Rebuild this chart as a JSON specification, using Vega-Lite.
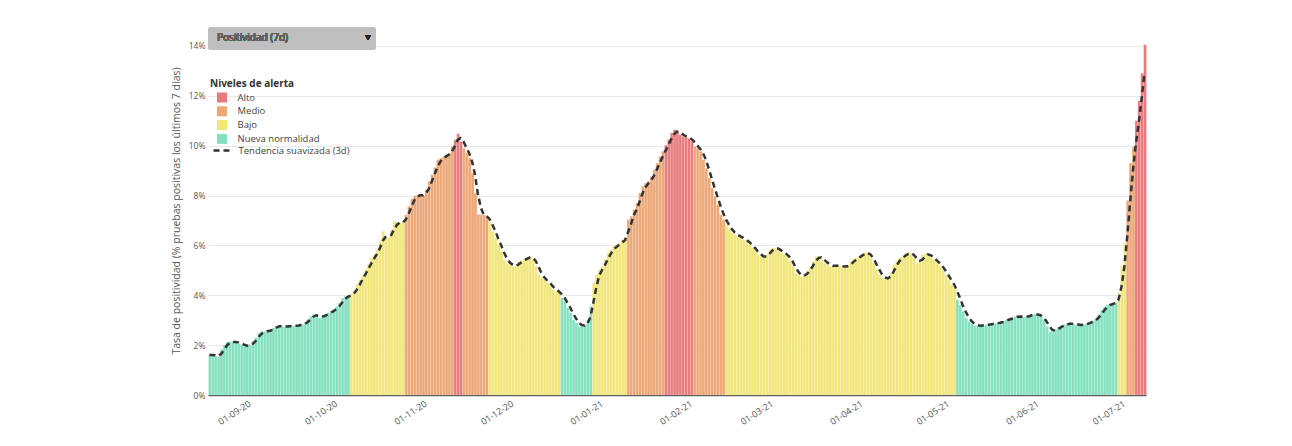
{
"$schema": "https://vega.github.io/schema/vega-lite/v6.json",
"width": 938,
"height": 369,
"autosize": {"type": "none"},
"padding": {"left": 208, "top": 26, "right": 146, "bottom": 51},
"background": "#ffffff",
"config": {
  "view": {"stroke": null},
  "font": "Open Sans",
  "axis": {"labelFont": "Open Sans", "titleFont": "Open Sans"},
  "legend": {"labelFont": "Open Sans", "titleFont": "Open Sans"},
  "text": {"font": "Open Sans"}
},
"data": {"values": [
{"d":"2020-08-17","v":1.6,"t":1.6,"n":"Nueva normalidad"},
{"d":"2020-08-18","v":1.6,"t":1.6,"n":"Nueva normalidad"},
{"d":"2020-08-19","v":1.56,"t":1.59,"n":"Nueva normalidad"},
{"d":"2020-08-20","v":1.53,"t":1.56,"n":"Nueva normalidad"},
{"d":"2020-08-21","v":1.83,"t":1.64,"n":"Nueva normalidad"},
{"d":"2020-08-22","v":2.0,"t":1.79,"n":"Nueva normalidad"},
{"d":"2020-08-23","v":2.12,"t":1.98,"n":"Nueva normalidad"},
{"d":"2020-08-24","v":2.15,"t":2.09,"n":"Nueva normalidad"},
{"d":"2020-08-25","v":2.13,"t":2.13,"n":"Nueva normalidad"},
{"d":"2020-08-26","v":2.12,"t":2.13,"n":"Nueva normalidad"},
{"d":"2020-08-27","v":2.07,"t":2.11,"n":"Nueva normalidad"},
{"d":"2020-08-28","v":2.02,"t":2.07,"n":"Nueva normalidad"},
{"d":"2020-08-29","v":1.96,"t":2.02,"n":"Nueva normalidad"},
{"d":"2020-08-30","v":1.97,"t":1.98,"n":"Nueva normalidad"},
{"d":"2020-08-31","v":2.03,"t":1.99,"n":"Nueva normalidad"},
{"d":"2020-09-01","v":2.16,"t":2.05,"n":"Nueva normalidad"},
{"d":"2020-09-02","v":2.3,"t":2.16,"n":"Nueva normalidad"},
{"d":"2020-09-03","v":2.49,"t":2.32,"n":"Nueva normalidad"},
{"d":"2020-09-04","v":2.56,"t":2.45,"n":"Nueva normalidad"},
{"d":"2020-09-05","v":2.55,"t":2.53,"n":"Nueva normalidad"},
{"d":"2020-09-06","v":2.56,"t":2.56,"n":"Nueva normalidad"},
{"d":"2020-09-07","v":2.62,"t":2.58,"n":"Nueva normalidad"},
{"d":"2020-09-08","v":2.69,"t":2.62,"n":"Nueva normalidad"},
{"d":"2020-09-09","v":2.76,"t":2.69,"n":"Nueva normalidad"},
{"d":"2020-09-10","v":2.79,"t":2.75,"n":"Nueva normalidad"},
{"d":"2020-09-11","v":2.76,"t":2.77,"n":"Nueva normalidad"},
{"d":"2020-09-12","v":2.73,"t":2.76,"n":"Nueva normalidad"},
{"d":"2020-09-13","v":2.76,"t":2.75,"n":"Nueva normalidad"},
{"d":"2020-09-14","v":2.8,"t":2.76,"n":"Nueva normalidad"},
{"d":"2020-09-15","v":2.76,"t":2.77,"n":"Nueva normalidad"},
{"d":"2020-09-16","v":2.79,"t":2.78,"n":"Nueva normalidad"},
{"d":"2020-09-17","v":2.83,"t":2.79,"n":"Nueva normalidad"},
{"d":"2020-09-18","v":2.84,"t":2.82,"n":"Nueva normalidad"},
{"d":"2020-09-19","v":2.89,"t":2.85,"n":"Nueva normalidad"},
{"d":"2020-09-20","v":3.03,"t":2.92,"n":"Nueva normalidad"},
{"d":"2020-09-21","v":3.16,"t":3.03,"n":"Nueva normalidad"},
{"d":"2020-09-22","v":3.23,"t":3.14,"n":"Nueva normalidad"},
{"d":"2020-09-23","v":3.2,"t":3.2,"n":"Nueva normalidad"},
{"d":"2020-09-24","v":3.09,"t":3.17,"n":"Nueva normalidad"},
{"d":"2020-09-25","v":3.16,"t":3.15,"n":"Nueva normalidad"},
{"d":"2020-09-26","v":3.25,"t":3.17,"n":"Nueva normalidad"},
{"d":"2020-09-27","v":3.29,"t":3.23,"n":"Nueva normalidad"},
{"d":"2020-09-28","v":3.36,"t":3.3,"n":"Nueva normalidad"},
{"d":"2020-09-29","v":3.43,"t":3.36,"n":"Nueva normalidad"},
{"d":"2020-09-30","v":3.56,"t":3.45,"n":"Nueva normalidad"},
{"d":"2020-10-01","v":3.69,"t":3.56,"n":"Nueva normalidad"},
{"d":"2020-10-02","v":3.89,"t":3.71,"n":"Nueva normalidad"},
{"d":"2020-10-03","v":3.96,"t":3.85,"n":"Nueva normalidad"},
{"d":"2020-10-04","v":3.96,"t":3.94,"n":"Nueva normalidad"},
{"d":"2020-10-05","v":4.05,"t":3.99,"n":"Bajo"},
{"d":"2020-10-06","v":4.16,"t":4.06,"n":"Bajo"},
{"d":"2020-10-07","v":4.43,"t":4.21,"n":"Bajo"},
{"d":"2020-10-08","v":4.63,"t":4.41,"n":"Bajo"},
{"d":"2020-10-09","v":4.83,"t":4.63,"n":"Bajo"},
{"d":"2020-10-10","v":5.03,"t":4.83,"n":"Bajo"},
{"d":"2020-10-11","v":5.25,"t":5.04,"n":"Bajo"},
{"d":"2020-10-12","v":5.49,"t":5.26,"n":"Bajo"},
{"d":"2020-10-13","v":5.63,"t":5.46,"n":"Bajo"},
{"d":"2020-10-14","v":5.83,"t":5.65,"n":"Bajo"},
{"d":"2020-10-15","v":6.16,"t":5.87,"n":"Bajo"},
{"d":"2020-10-16","v":6.56,"t":6.18,"n":"Bajo"},
{"d":"2020-10-17","v":6.3,"t":6.34,"n":"Bajo"},
{"d":"2020-10-18","v":6.32,"t":6.39,"n":"Bajo"},
{"d":"2020-10-19","v":6.63,"t":6.42,"n":"Bajo"},
{"d":"2020-10-20","v":6.97,"t":6.64,"n":"Bajo"},
{"d":"2020-10-21","v":6.9,"t":6.83,"n":"Bajo"},
{"d":"2020-10-22","v":6.9,"t":6.92,"n":"Bajo"},
{"d":"2020-10-23","v":6.97,"t":6.92,"n":"Bajo"},
{"d":"2020-10-24","v":7.23,"t":7.03,"n":"Medio"},
{"d":"2020-10-25","v":7.57,"t":7.26,"n":"Medio"},
{"d":"2020-10-26","v":7.87,"t":7.56,"n":"Medio"},
{"d":"2020-10-27","v":8.0,"t":7.81,"n":"Medio"},
{"d":"2020-10-28","v":8.0,"t":7.96,"n":"Medio"},
{"d":"2020-10-29","v":8.03,"t":8.01,"n":"Medio"},
{"d":"2020-10-30","v":8.0,"t":8.01,"n":"Medio"},
{"d":"2020-10-31","v":8.24,"t":8.09,"n":"Medio"},
{"d":"2020-11-01","v":8.57,"t":8.27,"n":"Medio"},
{"d":"2020-11-02","v":8.84,"t":8.55,"n":"Medio"},
{"d":"2020-11-03","v":9.13,"t":8.85,"n":"Medio"},
{"d":"2020-11-04","v":9.44,"t":9.14,"n":"Medio"},
{"d":"2020-11-05","v":9.5,"t":9.36,"n":"Medio"},
{"d":"2020-11-06","v":9.57,"t":9.5,"n":"Medio"},
{"d":"2020-11-07","v":9.64,"t":9.57,"n":"Medio"},
{"d":"2020-11-08","v":9.71,"t":9.64,"n":"Medio"},
{"d":"2020-11-09","v":9.97,"t":9.77,"n":"Medio"},
{"d":"2020-11-10","v":10.24,"t":9.97,"n":"Alto"},
{"d":"2020-11-11","v":10.48,"t":10.23,"n":"Alto"},
{"d":"2020-11-12","v":10.17,"t":10.3,"n":"Alto"},
{"d":"2020-11-13","v":9.9,"t":10.18,"n":"Medio"},
{"d":"2020-11-14","v":9.7,"t":9.92,"n":"Medio"},
{"d":"2020-11-15","v":9.5,"t":9.7,"n":"Medio"},
{"d":"2020-11-16","v":8.9,"t":9.37,"n":"Medio"},
{"d":"2020-11-17","v":8.1,"t":8.83,"n":"Medio"},
{"d":"2020-11-18","v":7.25,"t":8.08,"n":"Medio"},
{"d":"2020-11-19","v":7.23,"t":7.53,"n":"Medio"},
{"d":"2020-11-20","v":7.22,"t":7.23,"n":"Medio"},
{"d":"2020-11-21","v":7.1,"t":7.18,"n":"Medio"},
{"d":"2020-11-22","v":6.9,"t":7.07,"n":"Bajo"},
{"d":"2020-11-23","v":6.56,"t":6.85,"n":"Bajo"},
{"d":"2020-11-24","v":6.3,"t":6.59,"n":"Bajo"},
{"d":"2020-11-25","v":6.03,"t":6.3,"n":"Bajo"},
{"d":"2020-11-26","v":5.76,"t":6.03,"n":"Bajo"},
{"d":"2020-11-27","v":5.43,"t":5.74,"n":"Bajo"},
{"d":"2020-11-28","v":5.29,"t":5.49,"n":"Bajo"},
{"d":"2020-11-29","v":5.23,"t":5.32,"n":"Bajo"},
{"d":"2020-11-30","v":5.16,"t":5.23,"n":"Bajo"},
{"d":"2020-12-01","v":5.16,"t":5.18,"n":"Bajo"},
{"d":"2020-12-02","v":5.36,"t":5.23,"n":"Bajo"},
{"d":"2020-12-03","v":5.4,"t":5.31,"n":"Bajo"},
{"d":"2020-12-04","v":5.45,"t":5.4,"n":"Bajo"},
{"d":"2020-12-05","v":5.53,"t":5.46,"n":"Bajo"},
{"d":"2020-12-06","v":5.56,"t":5.51,"n":"Bajo"},
{"d":"2020-12-07","v":5.45,"t":5.51,"n":"Bajo"},
{"d":"2020-12-08","v":5.16,"t":5.39,"n":"Bajo"},
{"d":"2020-12-09","v":4.83,"t":5.15,"n":"Bajo"},
{"d":"2020-12-10","v":4.69,"t":4.89,"n":"Bajo"},
{"d":"2020-12-11","v":4.63,"t":4.72,"n":"Bajo"},
{"d":"2020-12-12","v":4.49,"t":4.6,"n":"Bajo"},
{"d":"2020-12-13","v":4.36,"t":4.49,"n":"Bajo"},
{"d":"2020-12-14","v":4.22,"t":4.36,"n":"Bajo"},
{"d":"2020-12-15","v":4.16,"t":4.25,"n":"Bajo"},
{"d":"2020-12-16","v":4.09,"t":4.16,"n":"Bajo"},
{"d":"2020-12-17","v":3.89,"t":4.05,"n":"Nueva normalidad"},
{"d":"2020-12-18","v":3.76,"t":3.91,"n":"Nueva normalidad"},
{"d":"2020-12-19","v":3.49,"t":3.71,"n":"Nueva normalidad"},
{"d":"2020-12-20","v":3.29,"t":3.51,"n":"Nueva normalidad"},
{"d":"2020-12-21","v":3.02,"t":3.27,"n":"Nueva normalidad"},
{"d":"2020-12-22","v":2.89,"t":3.07,"n":"Nueva normalidad"},
{"d":"2020-12-23","v":2.75,"t":2.89,"n":"Nueva normalidad"},
{"d":"2020-12-24","v":2.78,"t":2.81,"n":"Nueva normalidad"},
{"d":"2020-12-25","v":2.82,"t":2.78,"n":"Nueva normalidad"},
{"d":"2020-12-26","v":3.02,"t":2.87,"n":"Nueva normalidad"},
{"d":"2020-12-27","v":3.56,"t":3.13,"n":"Nueva normalidad"},
{"d":"2020-12-28","v":4.49,"t":3.69,"n":"Bajo"},
{"d":"2020-12-29","v":4.83,"t":4.29,"n":"Bajo"},
{"d":"2020-12-30","v":5.03,"t":4.78,"n":"Bajo"},
{"d":"2020-12-31","v":5.16,"t":5.01,"n":"Bajo"},
{"d":"2021-01-01","v":5.43,"t":5.21,"n":"Bajo"},
{"d":"2021-01-02","v":5.7,"t":5.43,"n":"Bajo"},
{"d":"2021-01-03","v":5.83,"t":5.65,"n":"Bajo"},
{"d":"2021-01-04","v":5.96,"t":5.83,"n":"Bajo"},
{"d":"2021-01-05","v":6.03,"t":5.94,"n":"Bajo"},
{"d":"2021-01-06","v":6.1,"t":6.03,"n":"Bajo"},
{"d":"2021-01-07","v":6.23,"t":6.12,"n":"Bajo"},
{"d":"2021-01-08","v":6.3,"t":6.21,"n":"Bajo"},
{"d":"2021-01-09","v":7.03,"t":6.52,"n":"Medio"},
{"d":"2021-01-10","v":7.17,"t":6.83,"n":"Medio"},
{"d":"2021-01-11","v":7.43,"t":7.21,"n":"Medio"},
{"d":"2021-01-12","v":7.7,"t":7.43,"n":"Medio"},
{"d":"2021-01-13","v":8.1,"t":7.74,"n":"Medio"},
{"d":"2021-01-14","v":8.37,"t":8.06,"n":"Medio"},
{"d":"2021-01-15","v":8.5,"t":8.32,"n":"Medio"},
{"d":"2021-01-16","v":8.57,"t":8.48,"n":"Medio"},
{"d":"2021-01-17","v":8.77,"t":8.61,"n":"Medio"},
{"d":"2021-01-18","v":9.04,"t":8.79,"n":"Medio"},
{"d":"2021-01-19","v":9.3,"t":9.04,"n":"Medio"},
{"d":"2021-01-20","v":9.57,"t":9.3,"n":"Medio"},
{"d":"2021-01-21","v":9.77,"t":9.55,"n":"Medio"},
{"d":"2021-01-22","v":10.02,"t":9.79,"n":"Alto"},
{"d":"2021-01-23","v":10.24,"t":10.01,"n":"Alto"},
{"d":"2021-01-24","v":10.51,"t":10.26,"n":"Alto"},
{"d":"2021-01-25","v":10.64,"t":10.46,"n":"Alto"},
{"d":"2021-01-26","v":10.57,"t":10.57,"n":"Alto"},
{"d":"2021-01-27","v":10.44,"t":10.55,"n":"Alto"},
{"d":"2021-01-28","v":10.37,"t":10.46,"n":"Alto"},
{"d":"2021-01-29","v":10.33,"t":10.38,"n":"Alto"},
{"d":"2021-01-30","v":10.3,"t":10.33,"n":"Alto"},
{"d":"2021-01-31","v":10.17,"t":10.27,"n":"Alto"},
{"d":"2021-02-01","v":9.97,"t":10.15,"n":"Medio"},
{"d":"2021-02-02","v":9.9,"t":10.01,"n":"Medio"},
{"d":"2021-02-03","v":9.77,"t":9.88,"n":"Medio"},
{"d":"2021-02-04","v":9.44,"t":9.7,"n":"Medio"},
{"d":"2021-02-05","v":9.1,"t":9.44,"n":"Medio"},
{"d":"2021-02-06","v":8.7,"t":9.08,"n":"Medio"},
{"d":"2021-02-07","v":8.3,"t":8.7,"n":"Medio"},
{"d":"2021-02-08","v":7.97,"t":8.32,"n":"Medio"},
{"d":"2021-02-09","v":7.63,"t":7.97,"n":"Medio"},
{"d":"2021-02-10","v":7.23,"t":7.61,"n":"Medio"},
{"d":"2021-02-11","v":7.03,"t":7.3,"n":"Medio"},
{"d":"2021-02-12","v":6.83,"t":7.03,"n":"Bajo"},
{"d":"2021-02-13","v":6.63,"t":6.83,"n":"Bajo"},
{"d":"2021-02-14","v":6.5,"t":6.65,"n":"Bajo"},
{"d":"2021-02-15","v":6.43,"t":6.52,"n":"Bajo"},
{"d":"2021-02-16","v":6.36,"t":6.43,"n":"Bajo"},
{"d":"2021-02-17","v":6.3,"t":6.36,"n":"Bajo"},
{"d":"2021-02-18","v":6.23,"t":6.3,"n":"Bajo"},
{"d":"2021-02-19","v":6.16,"t":6.23,"n":"Bajo"},
{"d":"2021-02-20","v":6.03,"t":6.14,"n":"Bajo"},
{"d":"2021-02-21","v":5.9,"t":6.03,"n":"Bajo"},
{"d":"2021-02-22","v":5.76,"t":5.9,"n":"Bajo"},
{"d":"2021-02-23","v":5.63,"t":5.76,"n":"Bajo"},
{"d":"2021-02-24","v":5.56,"t":5.65,"n":"Bajo"},
{"d":"2021-02-25","v":5.5,"t":5.56,"n":"Bajo"},
{"d":"2021-02-26","v":5.63,"t":5.56,"n":"Bajo"},
{"d":"2021-02-27","v":5.83,"t":5.65,"n":"Bajo"},
{"d":"2021-02-28","v":5.9,"t":5.79,"n":"Bajo"},
{"d":"2021-03-01","v":5.9,"t":5.88,"n":"Bajo"},
{"d":"2021-03-02","v":5.83,"t":5.88,"n":"Bajo"},
{"d":"2021-03-03","v":5.7,"t":5.81,"n":"Bajo"},
{"d":"2021-03-04","v":5.63,"t":5.72,"n":"Bajo"},
{"d":"2021-03-05","v":5.63,"t":5.65,"n":"Bajo"},
{"d":"2021-03-06","v":5.36,"t":5.54,"n":"Bajo"},
{"d":"2021-03-07","v":5.16,"t":5.38,"n":"Bajo"},
{"d":"2021-03-08","v":4.89,"t":5.14,"n":"Bajo"},
{"d":"2021-03-09","v":4.79,"t":4.95,"n":"Bajo"},
{"d":"2021-03-10","v":4.76,"t":4.81,"n":"Bajo"},
{"d":"2021-03-11","v":4.83,"t":4.79,"n":"Bajo"},
{"d":"2021-03-12","v":4.96,"t":4.85,"n":"Bajo"},
{"d":"2021-03-13","v":5.16,"t":4.98,"n":"Bajo"},
{"d":"2021-03-14","v":5.36,"t":5.16,"n":"Bajo"},
{"d":"2021-03-15","v":5.56,"t":5.36,"n":"Bajo"},
{"d":"2021-03-16","v":5.56,"t":5.49,"n":"Bajo"},
{"d":"2021-03-17","v":5.43,"t":5.52,"n":"Bajo"},
{"d":"2021-03-18","v":5.29,"t":5.43,"n":"Bajo"},
{"d":"2021-03-19","v":5.23,"t":5.32,"n":"Bajo"},
{"d":"2021-03-20","v":5.16,"t":5.23,"n":"Bajo"},
{"d":"2021-03-21","v":5.16,"t":5.18,"n":"Bajo"},
{"d":"2021-03-22","v":5.23,"t":5.18,"n":"Bajo"},
{"d":"2021-03-23","v":5.16,"t":5.18,"n":"Bajo"},
{"d":"2021-03-24","v":5.16,"t":5.18,"n":"Bajo"},
{"d":"2021-03-25","v":5.13,"t":5.15,"n":"Bajo"},
{"d":"2021-03-26","v":5.19,"t":5.16,"n":"Bajo"},
{"d":"2021-03-27","v":5.32,"t":5.21,"n":"Bajo"},
{"d":"2021-03-28","v":5.45,"t":5.32,"n":"Bajo"},
{"d":"2021-03-29","v":5.5,"t":5.42,"n":"Bajo"},
{"d":"2021-03-30","v":5.56,"t":5.5,"n":"Bajo"},
{"d":"2021-03-31","v":5.67,"t":5.58,"n":"Bajo"},
{"d":"2021-04-01","v":5.72,"t":5.65,"n":"Bajo"},
{"d":"2021-04-02","v":5.7,"t":5.7,"n":"Bajo"},
{"d":"2021-04-03","v":5.5,"t":5.64,"n":"Bajo"},
{"d":"2021-04-04","v":5.29,"t":5.5,"n":"Bajo"},
{"d":"2021-04-05","v":5.03,"t":5.27,"n":"Bajo"},
{"d":"2021-04-06","v":4.83,"t":5.05,"n":"Bajo"},
{"d":"2021-04-07","v":4.69,"t":4.85,"n":"Bajo"},
{"d":"2021-04-08","v":4.65,"t":4.72,"n":"Bajo"},
{"d":"2021-04-09","v":4.69,"t":4.68,"n":"Bajo"},
{"d":"2021-04-10","v":4.89,"t":4.74,"n":"Bajo"},
{"d":"2021-04-11","v":5.23,"t":4.94,"n":"Bajo"},
{"d":"2021-04-12","v":5.36,"t":5.16,"n":"Bajo"},
{"d":"2021-04-13","v":5.5,"t":5.36,"n":"Bajo"},
{"d":"2021-04-14","v":5.56,"t":5.47,"n":"Bajo"},
{"d":"2021-04-15","v":5.67,"t":5.58,"n":"Bajo"},
{"d":"2021-04-16","v":5.72,"t":5.65,"n":"Bajo"},
{"d":"2021-04-17","v":5.67,"t":5.69,"n":"Bajo"},
{"d":"2021-04-18","v":5.5,"t":5.63,"n":"Bajo"},
{"d":"2021-04-19","v":5.29,"t":5.49,"n":"Bajo"},
{"d":"2021-04-20","v":5.36,"t":5.38,"n":"Bajo"},
{"d":"2021-04-21","v":5.63,"t":5.43,"n":"Bajo"},
{"d":"2021-04-22","v":5.67,"t":5.55,"n":"Bajo"},
{"d":"2021-04-23","v":5.63,"t":5.64,"n":"Bajo"},
{"d":"2021-04-24","v":5.49,"t":5.6,"n":"Bajo"},
{"d":"2021-04-25","v":5.43,"t":5.52,"n":"Bajo"},
{"d":"2021-04-26","v":5.29,"t":5.4,"n":"Bajo"},
{"d":"2021-04-27","v":5.16,"t":5.29,"n":"Bajo"},
{"d":"2021-04-28","v":5.02,"t":5.16,"n":"Bajo"},
{"d":"2021-04-29","v":4.82,"t":5.0,"n":"Bajo"},
{"d":"2021-04-30","v":4.62,"t":4.82,"n":"Bajo"},
{"d":"2021-05-01","v":4.42,"t":4.62,"n":"Bajo"},
{"d":"2021-05-02","v":4.29,"t":4.44,"n":"Bajo"},
{"d":"2021-05-03","v":3.82,"t":4.18,"n":"Nueva normalidad"},
{"d":"2021-05-04","v":3.62,"t":3.91,"n":"Nueva normalidad"},
{"d":"2021-05-05","v":3.35,"t":3.6,"n":"Nueva normalidad"},
{"d":"2021-05-06","v":3.09,"t":3.35,"n":"Nueva normalidad"},
{"d":"2021-05-07","v":2.95,"t":3.13,"n":"Nueva normalidad"},
{"d":"2021-05-08","v":2.86,"t":2.97,"n":"Nueva normalidad"},
{"d":"2021-05-09","v":2.78,"t":2.86,"n":"Nueva normalidad"},
{"d":"2021-05-10","v":2.78,"t":2.81,"n":"Nueva normalidad"},
{"d":"2021-05-11","v":2.78,"t":2.78,"n":"Nueva normalidad"},
{"d":"2021-05-12","v":2.8,"t":2.79,"n":"Nueva normalidad"},
{"d":"2021-05-13","v":2.82,"t":2.8,"n":"Nueva normalidad"},
{"d":"2021-05-14","v":2.84,"t":2.82,"n":"Nueva normalidad"},
{"d":"2021-05-15","v":2.86,"t":2.84,"n":"Nueva normalidad"},
{"d":"2021-05-16","v":2.88,"t":2.86,"n":"Nueva normalidad"},
{"d":"2021-05-17","v":2.9,"t":2.88,"n":"Nueva normalidad"},
{"d":"2021-05-18","v":2.93,"t":2.9,"n":"Nueva normalidad"},
{"d":"2021-05-19","v":2.97,"t":2.93,"n":"Nueva normalidad"},
{"d":"2021-05-20","v":3.02,"t":2.97,"n":"Nueva normalidad"},
{"d":"2021-05-21","v":3.06,"t":3.02,"n":"Nueva normalidad"},
{"d":"2021-05-22","v":3.1,"t":3.06,"n":"Nueva normalidad"},
{"d":"2021-05-23","v":3.15,"t":3.1,"n":"Nueva normalidad"},
{"d":"2021-05-24","v":3.17,"t":3.14,"n":"Nueva normalidad"},
{"d":"2021-05-25","v":3.14,"t":3.15,"n":"Nueva normalidad"},
{"d":"2021-05-26","v":3.12,"t":3.14,"n":"Nueva normalidad"},
{"d":"2021-05-27","v":3.16,"t":3.14,"n":"Nueva normalidad"},
{"d":"2021-05-28","v":3.2,"t":3.16,"n":"Nueva normalidad"},
{"d":"2021-05-29","v":3.23,"t":3.2,"n":"Nueva normalidad"},
{"d":"2021-05-30","v":3.25,"t":3.23,"n":"Nueva normalidad"},
{"d":"2021-05-31","v":3.2,"t":3.23,"n":"Nueva normalidad"},
{"d":"2021-06-01","v":3.14,"t":3.2,"n":"Nueva normalidad"},
{"d":"2021-06-02","v":3.0,"t":3.11,"n":"Nueva normalidad"},
{"d":"2021-06-03","v":2.75,"t":2.96,"n":"Nueva normalidad"},
{"d":"2021-06-04","v":2.54,"t":2.76,"n":"Nueva normalidad"},
{"d":"2021-06-05","v":2.57,"t":2.62,"n":"Nueva normalidad"},
{"d":"2021-06-06","v":2.62,"t":2.58,"n":"Nueva normalidad"},
{"d":"2021-06-07","v":2.72,"t":2.64,"n":"Nueva normalidad"},
{"d":"2021-06-08","v":2.78,"t":2.71,"n":"Nueva normalidad"},
{"d":"2021-06-09","v":2.83,"t":2.78,"n":"Nueva normalidad"},
{"d":"2021-06-10","v":2.86,"t":2.82,"n":"Nueva normalidad"},
{"d":"2021-06-11","v":2.88,"t":2.86,"n":"Nueva normalidad"},
{"d":"2021-06-12","v":2.85,"t":2.86,"n":"Nueva normalidad"},
{"d":"2021-06-13","v":2.82,"t":2.85,"n":"Nueva normalidad"},
{"d":"2021-06-14","v":2.81,"t":2.83,"n":"Nueva normalidad"},
{"d":"2021-06-15","v":2.81,"t":2.81,"n":"Nueva normalidad"},
{"d":"2021-06-16","v":2.84,"t":2.82,"n":"Nueva normalidad"},
{"d":"2021-06-17","v":2.88,"t":2.84,"n":"Nueva normalidad"},
{"d":"2021-06-18","v":2.92,"t":2.88,"n":"Nueva normalidad"},
{"d":"2021-06-19","v":2.98,"t":2.93,"n":"Nueva normalidad"},
{"d":"2021-06-20","v":3.07,"t":2.99,"n":"Nueva normalidad"},
{"d":"2021-06-21","v":3.22,"t":3.09,"n":"Nueva normalidad"},
{"d":"2021-06-22","v":3.4,"t":3.23,"n":"Nueva normalidad"},
{"d":"2021-06-23","v":3.55,"t":3.39,"n":"Nueva normalidad"},
{"d":"2021-06-24","v":3.62,"t":3.52,"n":"Nueva normalidad"},
{"d":"2021-06-25","v":3.66,"t":3.61,"n":"Nueva normalidad"},
{"d":"2021-06-26","v":3.68,"t":3.65,"n":"Nueva normalidad"},
{"d":"2021-06-27","v":3.72,"t":3.69,"n":"Nueva normalidad"},
{"d":"2021-06-28","v":4.1,"t":3.83,"n":"Bajo"},
{"d":"2021-06-29","v":5.2,"t":4.34,"n":"Bajo"},
{"d":"2021-06-30","v":6.1,"t":5.13,"n":"Bajo"},
{"d":"2021-07-01","v":7.8,"t":6.37,"n":"Medio"},
{"d":"2021-07-02","v":9.3,"t":7.73,"n":"Medio"},
{"d":"2021-07-03","v":9.96,"t":9.02,"n":"Medio"},
{"d":"2021-07-04","v":11.0,"t":10.09,"n":"Alto"},
{"d":"2021-07-05","v":11.8,"t":10.92,"n":"Alto"},
{"d":"2021-07-06","v":12.9,"t":11.9,"n":"Alto"},
{"d":"2021-07-07","v":14.05,"t":12.92,"n":"Alto"}
]},
"layer": [
  {
    "mark": {"type": "bar", "binSpacing": 0, "stroke": "#ffffff", "strokeWidth": 0.4, "strokeOpacity": 0.45},
    "encoding": {
      "x": {
        "field": "d", "timeUnit": "yearmonthdate", "type": "temporal", "title": null,
        "scale": {"domain": [{"year": 2020, "month": 8, "date": 17}, {"year": 2021, "month": 7, "date": 8}]},
        "axis": {
          "format": "%d-%m-%y", "tickCount": {"interval": "month", "step": 1},
          "labelAngle": -33, "labelFontSize": 9, "labelColor": "#555555", "labelPadding": 4, "labelOffset": -4,
          "grid": false, "ticks": false, "domainColor": "#555555", "domainWidth": 1.5
        }
      },
      "y": {
        "field": "v", "type": "quantitative",
        "title": "Tasa de positividad (% pruebas positivas los últimos 7 días)",
        "scale": {"domain": [0, 14.8], "nice": false},
        "axis": {
          "values": [0, 2, 4, 6, 8, 10, 12, 14], "labelExpr": "datum.value + '%'",
          "domain": false, "ticks": false, "labelFontSize": 8.5, "labelColor": "#555555", "labelPadding": 3,
          "gridColor": "#e8e8e8", "gridWidth": 1,
          "titleFontSize": 10.5, "titleFontWeight": "normal", "titleColor": "#555555", "titlePadding": 7
        }
      },
      "color": {
        "field": "n", "type": "nominal",
        "scale": {
          "domain": ["Alto", "Medio", "Bajo", "Nueva normalidad"],
          "range": ["#e77b7d", "#eda776", "#f1e67a", "#84e1c0"]
        },
        "legend": {
          "title": "Niveles de alerta", "orient": "none", "legendX": 2, "legendY": 52.5, "padding": 0,
          "titleFontSize": 10, "titleFontWeight": "bold", "titleColor": "#333333", "titlePadding": 4,
          "labelFontSize": 9.5, "labelColor": "#444444", "labelOffset": 10.5, "rowPadding": 3.8,
          "symbolType": "square", "symbolSize": 100, "symbolOffset": 7, "symbolStrokeWidth": 0
        }
      }
    }
  },
  {
    "mark": {"type": "line", "strokeWidth": 2.5, "color": "#333333"},
    "encoding": {
      "x": {"field": "d", "timeUnit": "yearmonthdate", "type": "temporal", "bandPosition": 0.5},
      "y": {"field": "t", "type": "quantitative"},
      "strokeDash": {
        "datum": "Tendencia suavizada (3d)", "type": "nominal",
        "scale": {"range": [[6, 4]]},
        "legend": {
          "title": null, "orient": "none", "legendX": 4, "legendY": 113, "padding": 0,
          "labelFontSize": 9.5, "labelColor": "#444444", "labelOffset": 3.5,
          "symbolType": "stroke", "symbolSize": 400, "symbolStrokeWidth": 2.5, "symbolStrokeColor": "#333333"
        }
      }
    }
  },
  {
    "mark": {"type": "rect", "fill": "#bfbfbf", "cornerRadius": 3},
    "encoding": {
      "x": {"datum": {"year": 2020, "month": 8, "date": 17}, "type": "temporal"},
      "x2": {"datum": {"year": 2020, "month": 10, "date": 14, "hours": 4}},
      "y": {"datum": 14.76, "type": "quantitative"},
      "y2": {"datum": 13.84}
    }
  },
  {
    "mark": {"type": "text", "text": "Positividad (7d)", "align": "left", "baseline": "middle", "fontSize": 10, "fontWeight": "normal", "fill": "#606060", "strokeWidth": 0},
    "encoding": {
      "x": {"datum": {"year": 2020, "month": 8, "date": 20, "hours": 2}, "type": "temporal"},
      "y": {"datum": 14.3, "type": "quantitative"}
    }
  },
  {
    "mark": {"type": "text", "text": "▼", "align": "center", "baseline": "middle", "fontSize": 8, "fill": "#222222"},
    "encoding": {
      "x": {"datum": {"year": 2020, "month": 10, "date": 11, "hours": 10}, "type": "temporal"},
      "y": {"datum": 14.3, "type": "quantitative"}
    }
  }
]
}
